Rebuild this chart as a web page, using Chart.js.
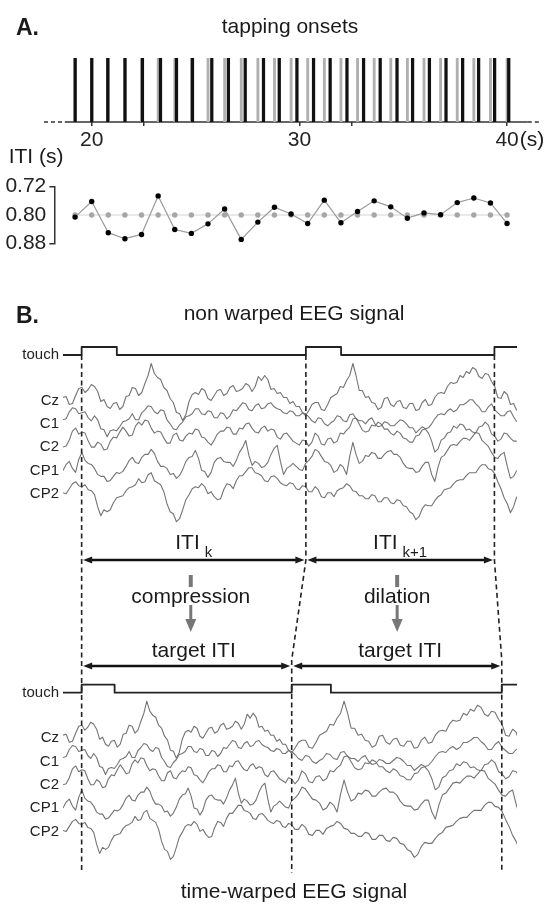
<!DOCTYPE html>
<html>
<head>
<meta charset="utf-8">
<title>Tapping onsets and time-warped EEG</title>
<script src="https://cdn.jsdelivr.net/npm/chart.js@4.4.0/dist/chart.umd.min.js"></script>
<style>
  html, body { margin: 0; padding: 0; background: #fff; }
  body { width: 549px; height: 907px; position: relative; overflow: hidden; }
  .box { position: absolute; left: 0; width: 549px; }
</style>
</head>
<body>
<div class="box" style="top:0;height:160px"><canvas id="tapChart"></canvas></div>
<div class="box" style="top:140px;height:120px"><canvas id="itiChart"></canvas></div>
<div class="box" style="top:290px;height:617px"><canvas id="eegChart"></canvas></div>
<script>
// ---- panel A: tapping session (seconds) ----
const tapTimes = [19.2, 20.0, 20.77, 21.6, 22.44, 23.31, 24.08, 24.85, 25.78, 26.58, 27.39, 28.27, 29.03, 29.88,
  30.68, 31.48, 32.29, 33.09, 33.89, 34.70, 35.45, 36.26, 37.06, 37.86, 38.63, 39.40, 40.08];
const metronomeTimes = [19.2, 20.0, 20.8, 21.6, 22.4, 23.2, 24.0, 24.8, 25.6, 26.4, 27.2, 28.0, 28.8, 29.6,
  30.4, 31.2, 32.0, 32.8, 33.6, 34.4, 35.2, 36.0, 36.8, 37.6, 38.4, 39.2, 40.0];
const itiValues = [0.806, 0.762, 0.850, 0.867, 0.855, 0.746, 0.841, 0.852, 0.825, 0.783, 0.869, 0.820, 0.778, 0.797,
  0.824, 0.758, 0.822, 0.790, 0.760, 0.777, 0.809, 0.794, 0.799, 0.765, 0.752, 0.766, 0.824];
const targetIti = 0.80;
const itiTicks = [0.72, 0.80, 0.88];
const timeTicks = [20, 22.5, 30, 32.5, 40];
const timeLabels = { 20: '20', 30: '30', 40: '40' };
const axisSpan = [18.7, 41.0];
const dashSpan = [17.7, 41.6];

// ---- panel B: EEG epoch (seconds from first touch), one sample every 12 ms ----
const channels = ['Cz', 'C1', 'C2', 'CP1', 'CP2'];
const eegStart = -0.071;
const eegStep = 0.012;
const eegEnd = 1.658;
const eegCz = [3, 4, -4, -3, 5, 12, 13, 8, 11, 16, 14, 9, -1, 1, -6, -8, -3, -2, -9, -6,
  4, 5, 13, 12, 5, 8, 17, 25, 37, 27, 23, 21, 13, 10, 2, -2, -12, -13, -20, -14,
  -1, 6, 8, 6, 12, 10, 2, 0, 5, 10, 11, 5, 7, 13, 15, 9, 10, 12, 17, 15,
  9, 14, 24, 20, 25, 21, 11, 12, 7, 8, 3, 3, -3, -1, -6, -6, -12, -15, -10, -4,
  -2, -2, -9, -10, -4, 3, 5, 7, 14, 13, 20, 25, 37, 25, 10, 10, 3, 4, -2, -3,
  -9, -7, 2, 3, -4, -6, -1, 0, -7, -8, -3, -3, -10, -9, -2, 1, -5, -4, 3, 7,
  8, 7, 14, 18, 17, 18, 25, 23, 29, 27, 33, 31, 24, 22, 27, 26, 19, 14, 3, 2,
  9, 6, -4, -3, -10];
const eegC1 = [4, 5, 12, 16, 15, 10, 11, 12, 6, 3, 8, 4, -5, -6, -13, -7, -6, -7, -3, 2,
  3, 5, 10, 4, 4, 11, 14, 18, 17, 12, 10, 14, 13, 4, 0, -5, -6, -1, 2, 7,
  8, 10, 15, 15, 10, 9, 13, 12, 6, 6, 11, 10, 5, 8, 14, 13, 17, 21, 20, 14,
  13, 18, 20, 15, 16, 20, 21, 17, 15, 14, 11, 10, 13, 12, 8, 8, 11, 10, 7, 3,
  1, 6, 5, 0, -2, 1, 3, 8, 7, 3, 2, 9, 10, 5, 3, 3, 0, 4, 6, 0,
  -3, -2, 2, 1, -2, -2, 1, 4, 3, 0, -4, -4, -9, -6, -3, -5, -4, 0, 5, 9,
  10, 9, 13, 15, 12, 14, 19, 19, 21, 24, 24, 20, 17, 12, 12, 17, 20, 14, 11, 8,
  8, 12, 13, 7, 2];
const eegC2 = [0, 1, 7, 16, 19, 13, 15, 14, 6, 0, 0, 5, 3, -3, -2, 6, 10, 9, 15, 20,
  16, 11, 12, 21, 25, 22, 27, 26, 19, 14, 16, 15, 9, 4, 4, 12, 14, 7, 6, 11,
  14, 13, 18, 17, 10, 9, 5, 2, 7, 13, 16, 16, 20, 19, 13, 13, 19, 18, 23, 24,
  19, 15, 14, 19, 21, 16, 18, 17, 10, 8, 13, 14, 10, 6, 4, 2, 7, 6, 1, 5,
  14, 11, 3, 2, 8, 9, 4, 6, 14, 13, 17, 20, 28, 29, 23, 17, 15, 16, 22, 21,
  25, 23, 18, 18, 14, 12, 16, 14, 9, 8, 5, 5, 11, 12, 17, 18, 14, 6, -5, -2,
  7, 9, 14, 15, 21, 19, 23, 22, 17, 18, 15, 14, 20, 21, 25, 22, 13, 11, 6, 8,
  14, 13, 9, 6, 6];
const eegCP1 = [0, 6, 9, 2, -2, 11, 18, 10, 7, 6, 2, -4, -6, -6, -11, -10, -6, -2, -3, -1,
  4, 10, 13, 8, 7, 13, 16, 16, 21, 17, 9, 4, 4, 2, -4, -3, -8, -5, 1, 9,
  13, 14, 20, 12, 0, -1, -7, -2, 8, 12, 13, 9, 8, 8, 4, 10, 18, 23, 30, 15,
  5, 9, 7, 3, 4, 8, 16, 22, 25, 9, -4, 2, 4, 7, 4, 1, 0, 7, 10, 14,
  21, 19, 14, 9, 8, 5, -2, 0, 6, 3, -4, 14, 28, 16, 7, 9, 15, 14, 18, 17,
  12, 12, 16, 19, 20, 16, 16, 13, 7, 3, 2, 2, -2, -1, 4, 8, 8, -4, -11, 3,
  13, 15, 20, 25, 26, 25, 29, 32, 32, 30, 34, 38, 37, 30, 27, 24, 18, 13, 12, 16,
  18, 4, -8, -6, 0];
const eegCP2 = [1, 0, 5, 10, 12, 8, 7, 9, 4, 3, -1, -13, -22, -16, -18, -16, -9, -4, -3, -2,
  3, 6, 7, 9, 15, 11, 12, 19, 21, 13, 11, 9, 2, -10, -18, -20, -28, -25, -16, -6,
  -1, 5, 7, 6, 10, 7, 0, 2, -3, -6, -5, 4, 10, 9, 5, 13, 18, 18, 22, 26,
  26, 21, 20, 18, 13, 12, 17, 18, 15, 11, 9, 8, 11, 10, 5, 4, 8, 7, 2, 2,
  7, 4, -3, -4, 1, 1, -3, 3, 5, 6, 10, 8, 3, 2, -2, -2, -5, -5, -1, -2,
  -8, -8, -4, -4, -9, -10, -6, -7, -12, -13, -18, -20, -26, -23, -15, -11, -12, -12, -7, -3,
  -1, 4, 5, 6, 10, 13, 14, 14, 18, 21, 21, 21, 26, 29, 29, 25, 24, 20, 12, 5,
  -4, -10, -19, -13, -3];
const touchOn = [0, 0.854, 1.572];
const touchOff = [0.134, 0.988];
const targetOnsets = [0, 0.8, 1.6];

const eegSeries = [eegCz, eegC1, eegC2, eegCP1, eegCP2];

// vertical layout of panel B, in pixels below the upper touch line
const touchRowTop = 0;
const touchRowBottom = -337.7;
const touchHeight = 8;
const chanGap = 45.5;
const chanStep = 23.3;
const itiArrowRow = -205;
const warpRow = -305;
const targetArrowRow = -311;
const dashEnd = -518;

const FONT = '"Liberation Sans", Arial, Helvetica, sans-serif';
Chart.defaults.font.family = FONT;
Chart.defaults.color = '#222';
Chart.defaults.animation = false;
Chart.defaults.events = [];
Chart.defaults.plugins.legend.display = false;
Chart.defaults.plugins.tooltip.enabled = false;

// map a time of the raw epoch onto the warped epoch (each ITI stretched to the target ITI)
function warp(t) {
  if (t <= touchOn[0]) return t;
  for (let k = 1; k < touchOn.length; k++) {
    if (t <= touchOn[k]) {
      const f = (t - touchOn[k - 1]) / (touchOn[k] - touchOn[k - 1]);
      return targetOnsets[k - 1] + f * (targetOnsets[k] - targetOnsets[k - 1]);
    }
  }
  const n = touchOn.length - 1;
  const gain = (targetOnsets[n] - targetOnsets[n - 1]) / (touchOn[n] - touchOn[n - 1]);
  return targetOnsets[n] + (t - touchOn[n]) * gain;
}
const noWarp = t => t;

// ---------------- tapping onsets ----------------
const tapLabels = {
  id: 'tapLabels',
  afterDraw(chart) {
    const { ctx, scales: { x } } = chart;
    ctx.save();
    ctx.fillStyle = '#1a1a1a';
    ctx.textBaseline = 'alphabetic';
    ctx.font = 'bold 23px ' + FONT;
    ctx.textAlign = 'left';
    ctx.fillText('A.', 16, 35);
    ctx.font = '21px ' + FONT;
    ctx.textAlign = 'center';
    ctx.fillText('tapping onsets', 290, 33);
    // unit after the last tick label
    ctx.textAlign = 'left';
    ctx.textBaseline = 'middle';
    const w = ctx.measureText('40').width;
    ctx.fillText('(s)', x.getPixelForValue(40) + w / 2 + 1, x.top + 4 + 2 + 21 * 1.2 / 2);
    ctx.restore();
  }
};

const lineAt0 = (a, b) => [{ x: a, y: 0 }, { x: b, y: 0 }];

new Chart(document.getElementById('tapChart'), {
  type: 'bar',
  data: {
    datasets: [
      { data: tapTimes.map(t => ({ x: t, y: 1 })), backgroundColor: '#111', barThickness: 2.6, grouped: false, order: 1 },
      { data: metronomeTimes.map(t => ({ x: t, y: 1 })), backgroundColor: '#b0b0b0', barThickness: 2.2, grouped: false, order: 2 },
      { type: 'line', data: lineAt0(axisSpan[0], axisSpan[1]), borderColor: '#333', borderWidth: 1.6, pointRadius: 0, clip: false, order: 3 },
      { type: 'line', data: lineAt0(dashSpan[0], axisSpan[0]), borderColor: '#333', borderWidth: 1.6, borderDash: [4, 3], pointRadius: 0, clip: false, order: 3 },
      { type: 'line', data: lineAt0(axisSpan[1], dashSpan[1]), borderColor: '#333', borderWidth: 1.6, borderDash: [4, 3], pointRadius: 0, clip: false, order: 3 }
    ]
  },
  options: {
    responsive: true,
    maintainAspectRatio: false,
    layout: { padding: { left: 44, right: 8.7, top: 58, bottom: 0 } },
    scales: {
      x: {
        type: 'linear', min: dashSpan[0], max: dashSpan[1], offset: false,
        border: { display: false },
        grid: { display: true, drawOnChartArea: false, drawTicks: true, tickLength: 4, color: '#333', lineWidth: 1.5, offset: false },
        ticks: { autoSkip: false, maxRotation: 0, padding: 2, font: { size: 21 }, color: '#222',
          callback: v => timeLabels[v] ?? '' },
        afterBuildTicks: s => { s.ticks = timeTicks.map(v => ({ value: v })); },
        afterFit: s => { s.height = 38; }
      },
      y: { display: false, min: 0, max: 1 }
    }
  },
  plugins: [tapLabels]
});

// ---------------- inter-tap intervals ----------------
const itiTitle = {
  id: 'itiTitle',
  afterDraw(chart) {
    const { ctx } = chart;
    ctx.save();
    ctx.fillStyle = '#1a1a1a';
    ctx.font = '21px ' + FONT;
    ctx.textAlign = 'left';
    ctx.textBaseline = 'alphabetic';
    ctx.fillText('ITI (s)', 8.7, 23);
    ctx.restore();
  }
};

new Chart(document.getElementById('itiChart'), {
  type: 'line',
  data: {
    datasets: [
      { data: itiValues.map((v, i) => ({ x: metronomeTimes[i], y: v })), borderColor: '#9a9a9a', borderWidth: 1.2,
        pointRadius: 2.7, pointBackgroundColor: '#000', pointBorderWidth: 0, tension: 0, clip: false, order: 1 },
      { data: metronomeTimes.map(t => ({ x: t, y: targetIti })), borderColor: '#d4d4d4', borderWidth: 1.2,
        pointRadius: 2.7, pointBackgroundColor: '#a6a6a6', pointBorderWidth: 0, clip: false, order: 2 }
    ]
  },
  options: {
    responsive: true,
    maintainAspectRatio: false,
    layout: { padding: { left: 0, right: 8.7, top: 46.7, bottom: 16.7 } },
    scales: {
      x: { type: 'linear', display: false, min: 18.2, max: dashSpan[1] },
      y: {
        type: 'linear', reverse: true, min: 0.72, max: 0.88,
        border: { display: true, color: '#333', width: 1.5 },
        grid: { drawOnChartArea: false, drawTicks: true, tickLength: 5, lineWidth: 1.5,
          color: c => (Math.abs(c.tick.value - targetIti) < 1e-6 ? 'rgba(0,0,0,0)' : '#333') },
        ticks: { padding: 3, font: { size: 21 }, color: '#222', callback: v => Number(v).toFixed(2) },
        afterBuildTicks: s => { s.ticks = itiTicks.map(v => ({ value: v })); },
        afterFit: s => { s.width = 54.3; }
      }
    }
  },
  plugins: [itiTitle]
});

// ---------------- EEG, raw and time-warped ----------------
function traceData(values, k, row, xmap) {
  const base = row - chanGap - k * chanStep;
  return values.map((v, i) => ({ x: xmap(eegStart + i * eegStep), y: base + v }));
}

function touchData(row, xmap) {
  const pts = [{ x: eegStart, y: row }];
  touchOn.forEach((t, k) => {
    pts.push({ x: xmap(t), y: row + touchHeight });
    if (k < touchOff.length) pts.push({ x: xmap(touchOff[k]), y: row });
  });
  pts.push({ x: eegEnd, y: row + touchHeight });
  return pts;
}

const eegDatasets = [];
touchOn.forEach(t => {
  eegDatasets.push({
    data: [{ x: t, y: touchRowTop }, { x: t, y: itiArrowRow }, { x: warp(t), y: warpRow }, { x: warp(t), y: dashEnd }],
    borderColor: '#222', borderWidth: 1.6, borderDash: [5, 3.5], pointRadius: 0, order: 0
  });
});
eegDatasets.push({ data: touchData(touchRowTop, noWarp), stepped: true, borderColor: '#222', borderWidth: 1.8, pointRadius: 0, order: 0 });
eegDatasets.push({ data: touchData(touchRowBottom, warp), stepped: true, borderColor: '#222', borderWidth: 1.8, pointRadius: 0, order: 0 });
eegSeries.forEach((vals, k) => {
  eegDatasets.push({ data: traceData(vals, k, touchRowTop, noWarp), borderColor: '#747474', borderWidth: 1.1, pointRadius: 0, tension: 0, order: 1 });
  eegDatasets.push({ data: traceData(vals, k, touchRowBottom, warp), borderColor: '#747474', borderWidth: 1.1, pointRadius: 0, tension: 0, order: 1 });
});

const rowTicks = [];
[touchRowTop, touchRowBottom].forEach(row => {
  rowTicks.push({ value: row, label: 'touch' });
  channels.forEach((name, k) => rowTicks.push({ value: row - chanGap - k * chanStep, label: name }));
});

function doubleArrow(ctx, x1, x2, yy) {
  const head = 9, half = 3.6;
  ctx.beginPath();
  ctx.moveTo(x1 + head - 1, yy);
  ctx.lineTo(x2 - head + 1, yy);
  ctx.stroke();
  ctx.beginPath();
  ctx.moveTo(x1, yy); ctx.lineTo(x1 + head, yy - half); ctx.lineTo(x1 + head, yy + half); ctx.closePath();
  ctx.moveTo(x2, yy); ctx.lineTo(x2 - head, yy - half); ctx.lineTo(x2 - head, yy + half); ctx.closePath();
  ctx.fill();
}

function grayArrow(ctx, xx, y) {
  ctx.save();
  ctx.strokeStyle = '#777';
  ctx.fillStyle = '#777';
  ctx.lineWidth = 4;
  ctx.beginPath(); ctx.moveTo(xx, y(-220)); ctx.lineTo(xx, y(-232)); ctx.stroke();
  ctx.lineWidth = 3;
  ctx.beginPath(); ctx.moveTo(xx, y(-250)); ctx.lineTo(xx, y(-266)); ctx.stroke();
  ctx.beginPath();
  ctx.moveTo(xx - 5.5, y(-264)); ctx.lineTo(xx + 5.5, y(-264)); ctx.lineTo(xx, y(-277)); ctx.closePath();
  ctx.fill();
  ctx.restore();
}

function itiLabel(ctx, cx, yMain, sub) {
  ctx.font = '21px ' + FONT;
  const w1 = ctx.measureText('ITI').width;
  ctx.font = '15px ' + FONT;
  const w2 = ctx.measureText(sub).width;
  const gap = 5;
  const x0 = cx - (w1 + gap + w2) / 2;
  ctx.textAlign = 'left';
  ctx.font = '21px ' + FONT;
  ctx.fillText('ITI', x0, yMain);
  ctx.font = '15px ' + FONT;
  ctx.fillText(sub, x0 + w1 + gap, yMain + 8);
}

const eegAnnotations = {
  id: 'eegAnnotations',
  afterDatasetsDraw(chart) {
    const { ctx, scales: { x, y } } = chart;
    const py = v => y.getPixelForValue(v);
    ctx.save();
    ctx.fillStyle = '#1a1a1a';
    ctx.strokeStyle = '#111';
    ctx.textBaseline = 'alphabetic';

    ctx.font = 'bold 23px ' + FONT;
    ctx.textAlign = 'left';
    ctx.fillText('B.', 16, 33);
    ctx.font = '21px ' + FONT;
    ctx.textAlign = 'center';
    ctx.fillText('non warped EEG signal', 294, 30);
    ctx.fillText('time-warped EEG signal', 294, 608);

    // measured intervals between touches
    ctx.lineWidth = 2.6;
    const subs = ['k', 'k+1'];
    for (let k = 0; k < touchOn.length - 1; k++) {
      const a = x.getPixelForValue(touchOn[k]);
      const b = x.getPixelForValue(touchOn[k + 1]);
      doubleArrow(ctx, a + 1.5, b - 1.5, py(itiArrowRow));
      itiLabel(ctx, (a + b) / 2, py(-194), subs[k]);
    }

    // compression / dilation towards the target interval
    const words = ['compression', 'dilation'];
    for (let k = 0; k < touchOn.length - 1; k++) {
      const mid = (x.getPixelForValue(touchOn[k]) + x.getPixelForValue(touchOn[k + 1])) / 2;
      grayArrow(ctx, mid - 3, py);
      ctx.font = '21px ' + FONT;
      ctx.textAlign = 'center';
      ctx.fillStyle = '#1a1a1a';
      ctx.fillText(words[k], mid - 3, py(-247.5));
      ctx.fillText('target ITI', mid, py(-302));
    }

    // target intervals after warping
    ctx.lineWidth = 2.6;
    for (let k = 0; k < targetOnsets.length - 1; k++) {
      const a = x.getPixelForValue(warp(touchOn[k]));
      const b = x.getPixelForValue(warp(touchOn[k + 1]));
      doubleArrow(ctx, a + 1.5, b - 1.5, py(targetArrowRow));
    }
    ctx.restore();
  }
};

new Chart(document.getElementById('eegChart'), {
  type: 'line',
  data: { datasets: eegDatasets },
  options: {
    responsive: true,
    maintainAspectRatio: false,
    layout: { padding: { left: 0, right: 32, top: 48, bottom: 22 } },
    elements: { line: { borderJoinStyle: 'round' } },
    scales: {
      x: { type: 'linear', display: false, min: eegStart, max: eegEnd },
      y: {
        type: 'linear', min: -530, max: 17,
        border: { display: false },
        grid: { display: false, drawTicks: false },
        ticks: { padding: 4, font: { size: 15 }, color: '#222',
          callback: v => (rowTicks.find(r => Math.abs(r.value - v) < 1e-6) || {}).label || '' },
        afterBuildTicks: s => { s.ticks = rowTicks.map(r => ({ value: r.value })); },
        afterFit: s => { s.width = 63; }
      }
    }
  },
  plugins: [eegAnnotations]
});
</script>
</body>
</html>
